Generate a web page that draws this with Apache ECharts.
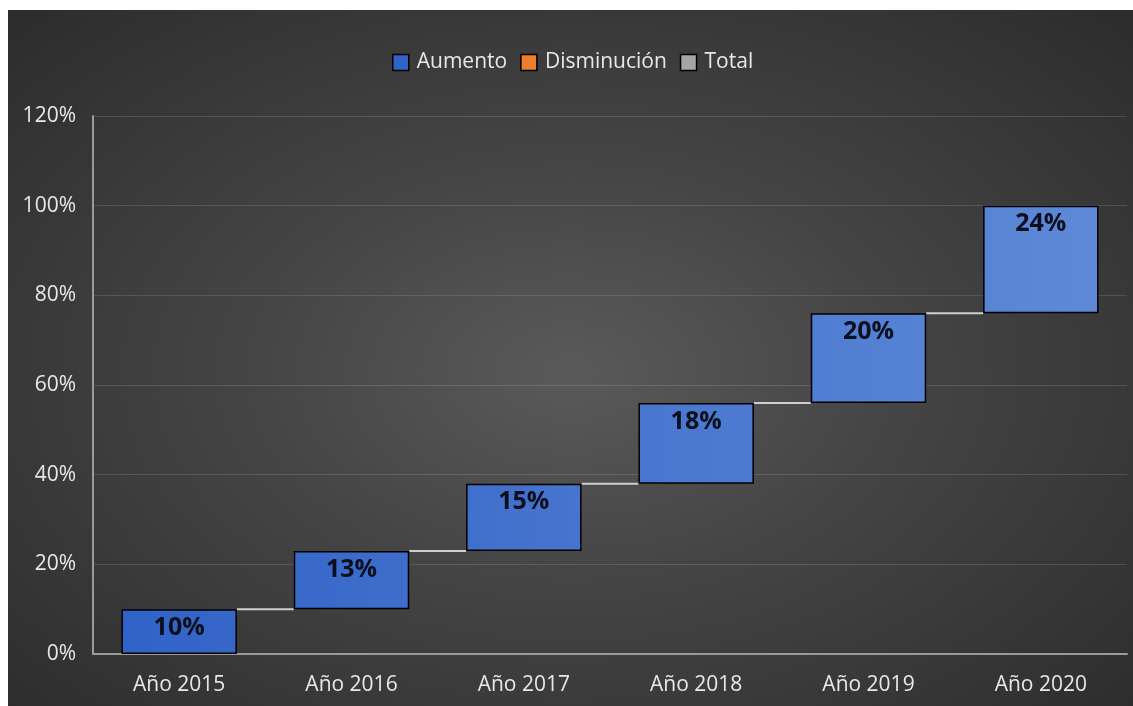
<!DOCTYPE html>
<html>
<head>
<meta charset="utf-8">
<script src="https://cdn.jsdelivr.net/npm/echarts@6/dist/echarts.min.js"></script>
<style>
  html, body { margin: 0; padding: 0; background: #fff; }
  #chart {
    position: absolute; left: 8px; top: 10px; width: 1125px; height: 696px;
    background: radial-gradient(ellipse at 50% 52%, #5a5a5a 0%, #454545 40%, #2c2c2c 100%);
  }
</style>
</head>
<body>
<div id="chart"></div>
<script>
var years = ["Año 2015", "Año 2016", "Año 2017", "Año 2018", "Año 2019", "Año 2020"];
var aumento = [10, 13, 15, 18, 20, 24];
var yTicks = { min: 0, max: 120, interval: 20 };

// base invisible de cada escalón = suma acumulada de los anteriores
var base = [];
var acc = 0;
for (var i = 0; i < aumento.length; i++) {
    base.push(acc);
    acc += aumento[i];
}
var tops = aumento.map(function (v, i) { return base[i] + v; });

var barPct = 0.67;
var font = "'Open Sans', 'Noto Sans', sans-serif";

// el azul se aclara de izquierda a derecha
var azul = {
    type: 'linear', global: true,
    x: 114, y: 0, x2: 1090, y2: 0,
    colorStops: [
        { offset: 0, color: '#3162c6' },
        { offset: 1, color: '#5e89d7' }
    ]
};

var option = {
    textStyle: { fontFamily: font },
    legend: {
        top: 37,
        left: 379,
        itemWidth: 16,
        itemHeight: 16,
        itemGap: 13,
        icon: 'rect',
        data: ["Aumento", "Disminución", "Total"],
        textStyle: { color: '#e8e8e8', fontSize: 21, fontFamily: font, padding: [0, 0, 0, 3] },
        itemStyle: { borderColor: '#000', borderWidth: 1.5 }
    },
    grid: { left: 85, top: 106, right: 6, bottom: 52 },
    xAxis: {
        type: 'category',
        data: years,
        axisLine: { lineStyle: { color: '#9a9a9a', width: 2 } },
        axisTick: { show: false },
        axisLabel: { color: '#e8e8e8', fontSize: 21, margin: 21 }
    },
    yAxis: {
        type: 'value',
        min: yTicks.min,
        max: yTicks.max,
        interval: yTicks.interval,
        axisLine: { show: true, lineStyle: { color: '#9a9a9a', width: 2 } },
        axisTick: { show: false },
        axisLabel: { color: '#e8e8e8', fontSize: 21, margin: 17, formatter: '{value}%' },
        splitLine: { lineStyle: { color: 'rgba(255,255,255,0.13)', width: 1 } }
    },
    series: [
        {
            name: 'base',
            type: 'bar',
            stack: 'w',
            barWidth: (barPct * 100) + '%',
            itemStyle: { color: 'transparent' },
            emphasis: { disabled: true },
            data: base
        },
        {
            name: 'Aumento',
            type: 'bar',
            stack: 'w',
            barWidth: (barPct * 100) + '%',
            itemStyle: { color: azul, borderColor: '#000', borderWidth: 1.5 },
            label: {
                show: true,
                position: 'insideTop',
                distance: 6,
                color: '#0a0f1e',
                fontSize: 25,
                fontWeight: 'bold',
                formatter: '{c}%'
            },
            data: aumento
        },
        { name: 'Disminución', type: 'bar', stack: 'w', itemStyle: { color: '#ed7d31' }, data: [] },
        { name: 'Total', type: 'bar', stack: 'w', itemStyle: { color: '#a5a5a5' }, data: [] },
        {
            name: 'conectores',
            type: 'custom',
            silent: true,
            z: 1,
            data: tops.slice(0, -1).map(function (v, i) { return [i, v]; }),
            renderItem: function (params, api) {
                var i = api.value(0);
                var v = api.value(1);
                var p1 = api.coord([i, v]);
                var p2 = api.coord([i + 1, v]);
                var half = api.size([1, 0])[0] * barPct / 2;
                return {
                    type: 'line',
                    shape: { x1: p1[0] + half, y1: p1[1], x2: p2[0] - half, y2: p2[1] },
                    style: { stroke: '#cfcfcf', lineWidth: 2 }
                };
            }
        }
    ]
};

echarts.init(document.getElementById('chart')).setOption(option);
</script>
</body>
</html>
